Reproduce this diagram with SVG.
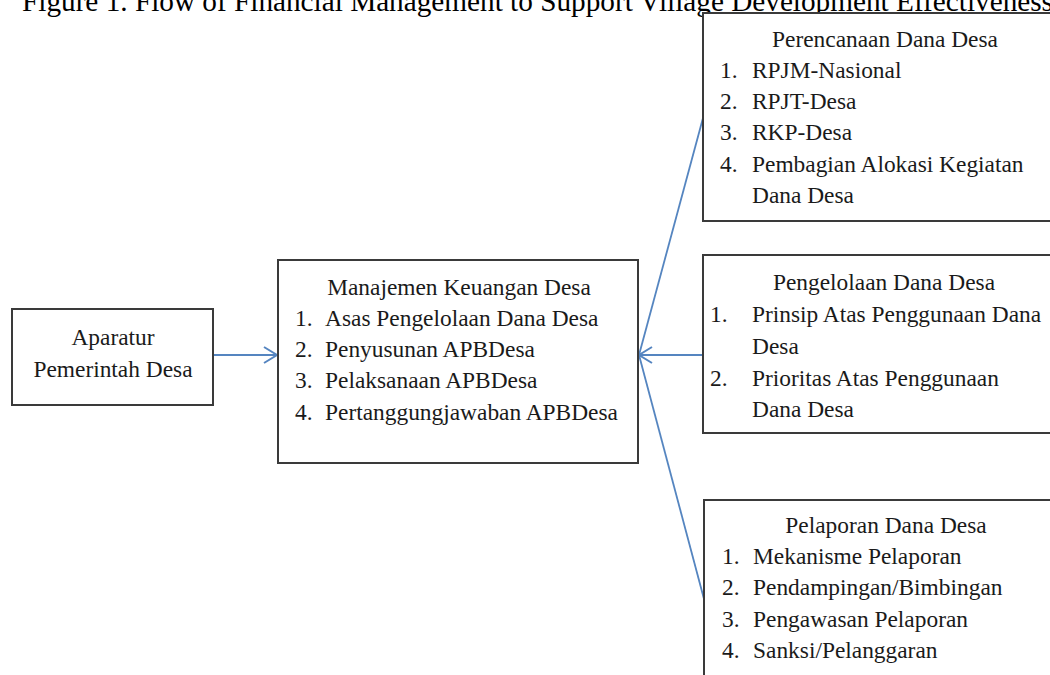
<svg xmlns="http://www.w3.org/2000/svg" width="1050" height="675" viewBox="0 0 1050 675">
<style>
.box{fill:#fff;stroke:#3a3a3a;stroke-width:2}
.t{font-family:"Liberation Serif","Times New Roman",serif;font-size:23.4px;fill:#1a1a1a}
.c{text-anchor:middle}
.title{font-family:"Liberation Serif","Times New Roman",serif;font-size:29px;fill:#000}
.ln{stroke:#5585c0;stroke-width:1.8;fill:none}
</style>
<defs>
<marker id="arr" markerWidth="20" markerHeight="20" viewBox="-16 -10 20 20" refX="0" refY="0" orient="auto" markerUnits="userSpaceOnUse">
<path d="M-13,-8 L0,0 L-13,8" fill="none" stroke="#5585c0" stroke-width="2"/>
</marker>
</defs>
<rect width="1050" height="675" fill="#fff"/>
<text class="title" x="22" y="11" textLength="1031" lengthAdjust="spacingAndGlyphs">Figure 1. Flow of Financial Management to Support Village Development Effectiveness</text>
<g id="connectors">
<line class="ln" x1="213" y1="355" x2="277" y2="355" marker-end="url(#arr)"/>
<line class="ln" x1="703" y1="355" x2="639" y2="355" marker-end="url(#arr)"/>
<line class="ln" x1="703" y1="118" x2="639" y2="355"/>
<line class="ln" x1="704" y1="599" x2="639" y2="355"/>
</g>
<g id="aparatur">
<rect class="box" x="12" y="309" width="201" height="96"/>
<text class="t c" x="113" y="345">Aparatur</text>
<text class="t c" x="113" y="377">Pemerintah Desa</text>
</g>
<g id="manajemen">
<rect class="box" x="278" y="260" width="360" height="203"/>
<text class="t c" x="459" y="295">Manajemen Keuangan Desa</text>
<text class="t" x="295" y="326">1.</text><text class="t" x="325" y="326">Asas Pengelolaan Dana Desa</text>
<text class="t" x="295" y="357">2.</text><text class="t" x="325" y="357">Penyusunan APBDesa</text>
<text class="t" x="295" y="388">3.</text><text class="t" x="325" y="388">Pelaksanaan APBDesa</text>
<text class="t" x="295" y="420">4.</text><text class="t" x="325" y="420">Pertanggungjawaban APBDesa</text>
</g>
<g id="perencanaan">
<rect class="box" x="703" y="13" width="360" height="208"/>
<text class="t c" x="885" y="47">Perencanaan Dana Desa</text>
<text class="t" x="720" y="78">1.</text><text class="t" x="752" y="78">RPJM-Nasional</text>
<text class="t" x="720" y="109">2.</text><text class="t" x="752" y="109">RPJT-Desa</text>
<text class="t" x="720" y="140">3.</text><text class="t" x="752" y="140">RKP-Desa</text>
<text class="t" x="720" y="172">4.</text><text class="t" x="752" y="172">Pembagian Alokasi Kegiatan</text>
<text class="t" x="752" y="203">Dana Desa</text>
</g>
<g id="pengelolaan">
<rect class="box" x="703" y="255" width="360" height="178"/>
<text class="t c" x="884" y="290">Pengelolaan Dana Desa</text>
<text class="t" x="710" y="322">1.</text><text class="t" x="752" y="322">Prinsip Atas Penggunaan Dana</text>
<text class="t" x="752" y="354">Desa</text>
<text class="t" x="710" y="386">2.</text><text class="t" x="752" y="386">Prioritas Atas Penggunaan</text>
<text class="t" x="752" y="417">Dana Desa</text>
</g>
<g id="pelaporan">
<rect class="box" x="704" y="500" width="360" height="200"/>
<text class="t c" x="886" y="533">Pelaporan Dana Desa</text>
<text class="t" x="722" y="564">1.</text><text class="t" x="753" y="564">Mekanisme Pelaporan</text>
<text class="t" x="722" y="595">2.</text><text class="t" x="753" y="595">Pendampingan/Bimbingan</text>
<text class="t" x="722" y="627">3.</text><text class="t" x="753" y="627">Pengawasan Pelaporan</text>
<text class="t" x="722" y="658">4.</text><text class="t" x="753" y="658">Sanksi/Pelanggaran</text>
</g>
</svg>
